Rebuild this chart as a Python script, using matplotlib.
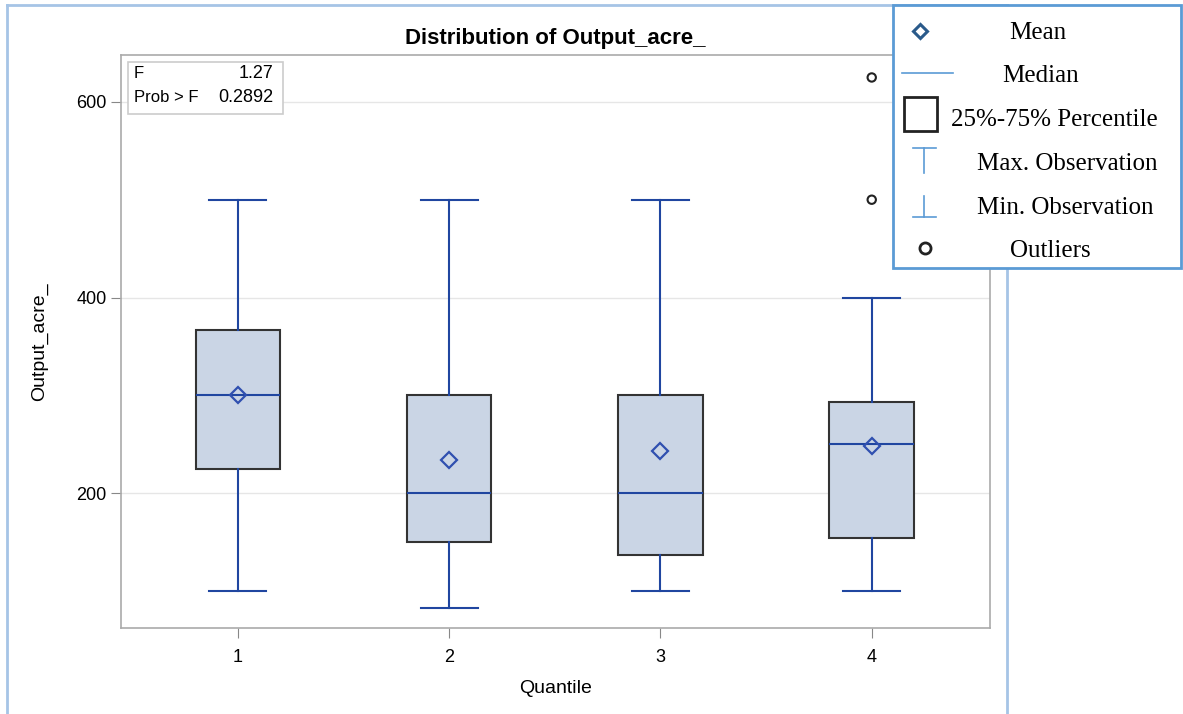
import numpy as np
import matplotlib
matplotlib.use('Agg')
import matplotlib.pyplot as plt
from matplotlib.patches import Rectangle
from matplotlib.lines import Line2D

# values
quantiles = [1, 2, 3, 4]
q1 = [225, 150, 137, 154]
median = [300, 200, 200, 250]
q3 = [367, 300, 300, 293]
means = [300, 234, 243, 248]
wlo = [100, 82, 100, 100]
whi = [500, 500, 500, 400]
outlier_x = [4, 4]
outlier_y = [625, 500]
yticks = [200, 400, 600]
f_text = ["F", "Prob > F"]
f_vals = ["1.27", "0.2892"]

blue = '#2046a0'
fill = '#cad5e5'

plt.rcParams['font.family'] = ['Liberation Sans', 'DejaVu Sans']

fig = plt.figure(figsize=(11.83, 7.14), dpi=100)
ax = fig.add_axes([0.1023, 0.1204, 0.7346, 0.8026])

stats = []
for i in range(len(quantiles)):
    stats.append({'med': median[i], 'q1': q1[i], 'q3': q3[i],
                  'whislo': wlo[i], 'whishi': whi[i], 'mean': means[i],
                  'fliers': [], 'label': str(quantiles[i])})

ax.bxp(stats, positions=quantiles, widths=0.4, patch_artist=True,
       showmeans=True, meanline=False,
       boxprops=dict(facecolor=fill, edgecolor='#333333', linewidth=1.5),
       medianprops=dict(color=blue, linewidth=1.5),
       whiskerprops=dict(color=blue, linewidth=1.5),
       capprops=dict(color=blue, linewidth=1.5),
       meanprops=dict(marker='D', markerfacecolor='none', markeredgecolor='#3050b0',
                      markersize=8, markeredgewidth=1.6),
       capwidths=0.27, zorder=3)
ax.scatter(outlier_x, outlier_y, s=36, facecolors='none', edgecolors='#222222',
           linewidths=1.5, zorder=4)

ax.set_xlim(0.447, 4.56)
ax.set_ylim(62, 648)
ax.set_yticks(yticks)
ax.set_xticks(quantiles)
ax.set_xticklabels([str(q) for q in quantiles])
ax.tick_params(labelsize=13, color='#888888', length=7)
ax.tick_params(axis='x', pad=8)
for y in yticks:
    ax.axhline(y, color='#e6e6e6', lw=1, zorder=0)
for s in ax.spines.values():
    s.set_color('#aaaaaa')
    s.set_linewidth(1.2)
ax.set_xlabel('Quantile', fontsize=14, labelpad=10)
ax.set_ylabel('Output_acre_', fontsize=14, labelpad=20)
ax.set_title('Distribution of Output_acre_', fontsize=16, fontweight='bold', pad=8)

# F statistics inset
ax.add_patch(Rectangle((0.008, 0.897), 0.178, 0.09, transform=ax.transAxes,
                       facecolor='white', edgecolor='#cccccc', lw=1.2, zorder=5))
for k in range(2):
    ax.text(0.015, 0.967 - k * 0.042, f_text[k], transform=ax.transAxes,
            fontsize=12, va='center', ha='left', zorder=6)
    ax.text(0.1755, 0.967 - k * 0.042, f_vals[k], transform=ax.transAxes,
            fontsize=13, va='center', ha='right', zorder=6)

# outer light-blue frame
fig.add_artist(Line2D([7 / 1183, 7 / 1183], [0, 1 - 5 / 714], color='#a6c4e6', lw=2))
fig.add_artist(Line2D([7 / 1183, 1007 / 1183], [1 - 5 / 714, 1 - 5 / 714], color='#a6c4e6', lw=2))
fig.add_artist(Line2D([1007 / 1183, 1007 / 1183], [0, 1 - 5 / 714], color='#a6c4e6', lw=2))

# legend panel
W, H = 1183.0, 714.0
def fx(px):
    return px / W
def fy(py):
    return 1 - py / H

fig.add_artist(Rectangle((fx(893), fy(268)), fx(1181) - fx(893), fy(5) - fy(268),
                         facecolor='white', edgecolor='#5b9bd5', lw=2, zorder=10))
leg_labels = ['Mean', 'Median', '25%-75% Percentile', 'Max. Observation',
              'Min. Observation', 'Outliers']
leg_x = [1009, 1002, 951, 977, 977, 1010]
leg_y = [33, 76, 120, 164, 208, 251]
light = '#5b9bd5'
for lab, x, y in zip(leg_labels, leg_x, leg_y):
    fig.text(fx(x), fy(y), lab, fontsize=18, family=['Liberation Serif', 'DejaVu Serif'],
             ha='left', va='center', zorder=11)

fig.add_artist(Line2D([fx(920)], [fy(31)], marker='D', markersize=7, markerfacecolor='none',
                      markeredgecolor='#2a5a8a', markeredgewidth=2.2, zorder=11))
fig.add_artist(Line2D([fx(902), fx(953)], [fy(73), fy(73)], color=light, lw=1.2, zorder=11))
fig.add_artist(Rectangle((fx(904), fy(131)), fx(937) - fx(904), fy(97) - fy(131),
                         facecolor='white', edgecolor='#222222', lw=2, zorder=11))
fig.add_artist(Line2D([fx(913), fx(936)], [fy(148), fy(148)], color=light, lw=1.2, zorder=11))
fig.add_artist(Line2D([fx(924), fx(924)], [fy(148), fy(173)], color=light, lw=1.2, zorder=11))
fig.add_artist(Line2D([fx(913), fx(936)], [fy(217), fy(217)], color=light, lw=1.2, zorder=11))
fig.add_artist(Line2D([fx(924), fx(924)], [fy(196), fy(217)], color=light, lw=1.2, zorder=11))
fig.add_artist(Line2D([fx(925)], [fy(248)], marker='o', markersize=8, markerfacecolor='none',
                      markeredgecolor='#222222', markeredgewidth=2, zorder=11))

plt.savefig('out.png', dpi=100)
